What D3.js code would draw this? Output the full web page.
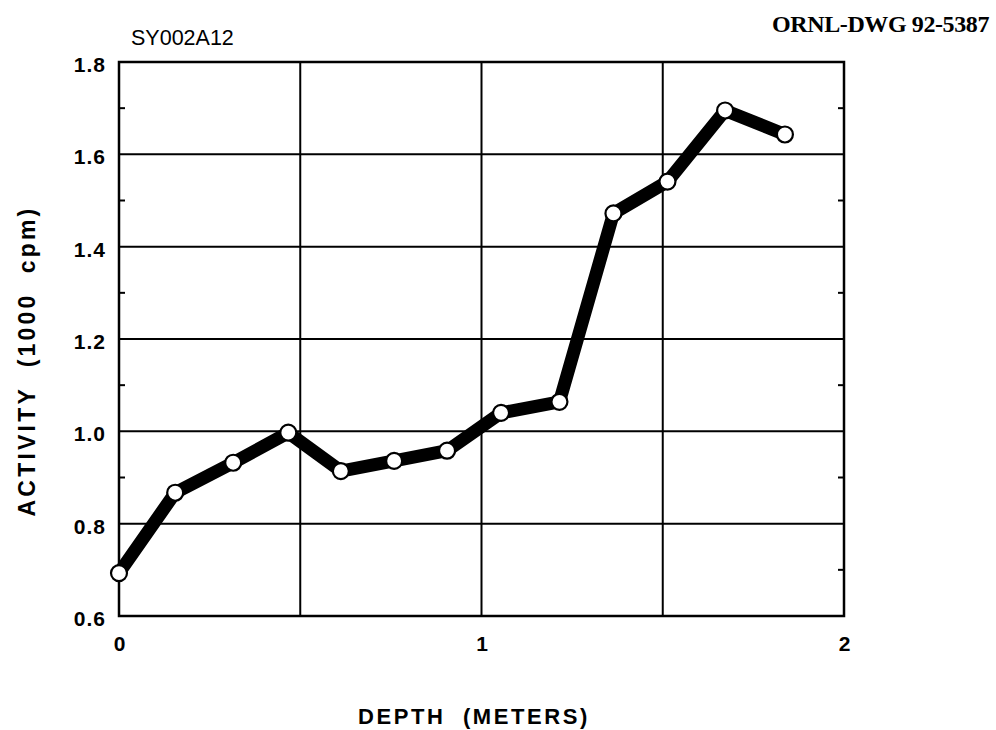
<!DOCTYPE html>
<html>
<head>
<meta charset="utf-8">
<script src="https://cdn.jsdelivr.net/npm/d3@7"></script>
<style>
  html, body { margin: 0; padding: 0; background: #fff; }
  svg { display: block; }
</style>
</head>
<body>
<script>
// Core sample SY002A12: activity vs depth
const depth = [0, 0.155, 0.315, 0.467, 0.612, 0.759, 0.905, 1.054, 1.215, 1.364, 1.513, 1.672, 1.837];
const activity = [0.693, 0.867, 0.932, 0.997, 0.914, 0.936, 0.958, 1.040, 1.064, 1.472, 1.541, 1.695, 1.643];
const xTicks = [0, 1, 2];
const xGrid = [0.5, 1, 1.5];
const yTicks = [0.6, 0.8, 1.0, 1.2, 1.4, 1.6, 1.8];
const yMinor = [0.7, 0.9, 1.1, 1.3, 1.5, 1.7];

const W = 996, H = 730;
const plotLeft = 119, plotRight = 844, plotTop = 62, plotBottom = 616;

const svg = d3.select("body").append("svg").attr("width", W).attr("height", H);

const x = d3.scaleLinear().domain([0, 2]).range([plotLeft, plotRight]);
const y = d3.scaleLinear().domain([0.6, 1.8]).range([plotBottom, plotTop]);

// grid lines
svg.append("g").selectAll("line").data(xGrid).join("line")
  .attr("x1", d => x(d)).attr("x2", d => x(d))
  .attr("y1", plotTop).attr("y2", plotBottom)
  .attr("stroke", "#000").attr("stroke-width", 2);
svg.append("g").selectAll("line").data(yTicks.slice(1, -1)).join("line")
  .attr("x1", plotLeft).attr("x2", plotRight)
  .attr("y1", d => y(d)).attr("y2", d => y(d))
  .attr("stroke", "#000").attr("stroke-width", 2);

// minor inward ticks on both vertical sides
svg.append("g").selectAll("line").data(yMinor).join("line")
  .attr("x1", plotLeft).attr("x2", plotLeft + 6)
  .attr("y1", d => y(d)).attr("y2", d => y(d))
  .attr("stroke", "#000").attr("stroke-width", 2);
svg.append("g").selectAll("line").data(yMinor).join("line")
  .attr("x1", plotRight - 6).attr("x2", plotRight)
  .attr("y1", d => y(d)).attr("y2", d => y(d))
  .attr("stroke", "#000").attr("stroke-width", 2);

// frame
svg.append("rect")
  .attr("x", plotLeft).attr("y", plotTop)
  .attr("width", plotRight - plotLeft).attr("height", plotBottom - plotTop)
  .attr("fill", "none").attr("stroke", "#000").attr("stroke-width", 2.5);

const sans = "Arial, 'Liberation Sans', Helvetica, sans-serif";

// axes (labels only)
const yAxis = d3.axisLeft(y).tickValues(yTicks).tickFormat(d3.format(".1f")).tickSize(0).tickPadding(13);
const gy = svg.append("g").attr("transform", `translate(${plotLeft},0)`).call(yAxis);
gy.select(".domain").remove();
gy.selectAll("text")
  .attr("font-family", sans)
  .attr("font-weight", "bold").attr("font-size", 21)
  .attr("letter-spacing", 1).attr("fill", "#000")
  .attr("dy", "0.45em");

const xAxis = d3.axisBottom(x).tickValues(xTicks).tickFormat(d3.format("d")).tickSize(0).tickPadding(20);
const gx = svg.append("g").attr("transform", `translate(0,${plotBottom})`).call(xAxis);
gx.select(".domain").remove();
gx.selectAll("text")
  .attr("font-family", sans)
  .attr("font-weight", "bold").attr("font-size", 21).attr("fill", "#000");

// data line
const line = d3.line().x((d, i) => x(depth[i])).y(d => y(d));
svg.append("path").datum(activity)
  .attr("d", line)
  .attr("fill", "none").attr("stroke", "#000")
  .attr("stroke-width", 13).attr("stroke-linejoin", "round").attr("stroke-linecap", "round");

svg.append("g").selectAll("circle").data(activity).join("circle")
  .attr("cx", (d, i) => x(depth[i])).attr("cy", d => y(d))
  .attr("r", 8)
  .attr("fill", "#fff").attr("stroke", "#000").attr("stroke-width", 2.2);

// titles
svg.append("text").attr("x", 131).attr("y", 45)
  .attr("font-family", sans).attr("font-size", 21.5).attr("fill", "#000")
  .text("SY002A12");

svg.append("text").attr("x", 989).attr("y", 32).attr("text-anchor", "end")
  .attr("font-family", "'Liberation Serif', 'Times New Roman', Times, serif")
  .attr("font-weight", "bold").attr("font-size", 24).attr("letter-spacing", -0.4)
  .attr("fill", "#000")
  .text("ORNL-DWG 92-5387");

svg.append("text").attr("x", 474).attr("y", 724).attr("text-anchor", "middle")
  .attr("font-family", sans).attr("font-weight", "bold").attr("font-size", 22)
  .attr("letter-spacing", 2.6).attr("fill", "#000")
  .style("white-space", "pre")
  .text("DEPTH  (METERS)");

svg.append("text")
  .attr("transform", "translate(35,361) rotate(-90)")
  .attr("text-anchor", "middle")
  .attr("font-family", sans).attr("font-weight", "bold").attr("font-size", 23)
  .attr("letter-spacing", 3.2).attr("fill", "#000")
  .style("white-space", "pre")
  .text("ACTIVITY  (1000  cpm)");
</script>
</body>
</html>
